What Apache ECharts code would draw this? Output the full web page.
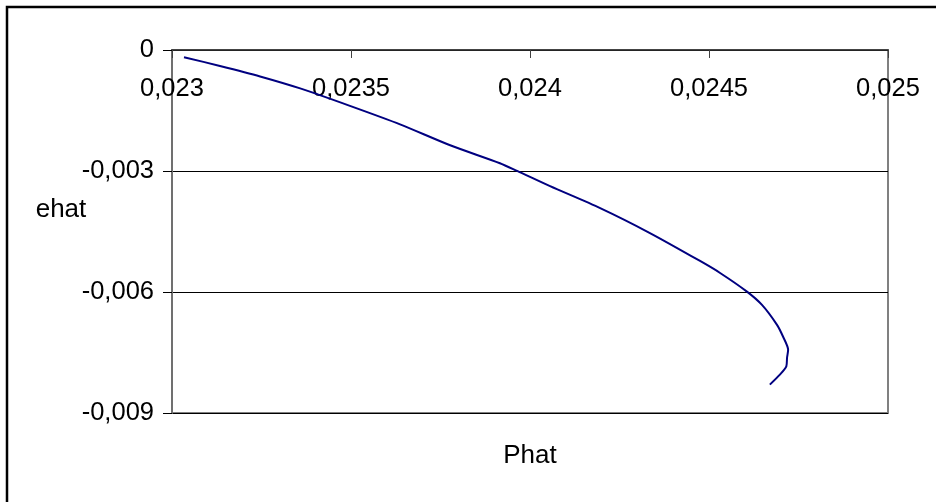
<!DOCTYPE html>
<html>
<head>
<meta charset="utf-8">
<script src="https://cdn.jsdelivr.net/npm/echarts@6/dist/echarts.min.js"></script>
<style>
  html, body { margin: 0; padding: 0; background: #fff; }
  #chart { width: 936px; height: 502px; }
</style>
</head>
<body>
<div id="chart"></div>
<script>
// Estimated price (Phat) against estimated error (ehat)
var phat = [0.0230335, 0.023134, 0.023246, 0.023358, 0.023497, 0.023637, 0.023777, 0.023916,
            0.023964, 0.024056, 0.024196, 0.024335, 0.024475, 0.024531, 0.024606, 0.024648,
            0.024690, 0.024707, 0.024721, 0.024718, 0.024716, 0.024698, 0.024670];
var ehat = [-0.000178, -0.000396, -0.000655, -0.000952, -0.001385, -0.001843, -0.002362, -0.002807,
            -0.002998, -0.003376, -0.003920, -0.004538, -0.005231, -0.005528, -0.005990, -0.006319,
            -0.006814, -0.007110, -0.007432, -0.007630, -0.007845, -0.008050, -0.008297];

var xTicks = { min: 0.023, max: 0.025, step: 0.0005 };
var yTicks = { min: -0.009, max: 0, step: 0.003 };
var xTitle = 'Phat';
var yTitle = 'ehat';

var FONT = '"Liberation Sans", Arial, sans-serif';

function commaNum(v) {
  if (Math.abs(v) < 1e-12) return '0';
  return String(+v.toFixed(5)).replace('.', ',');
}

var points = phat.map(function (p, i) { return [p, ehat[i]]; });

var chart = echarts.init(document.getElementById('chart'), null, { renderer: 'canvas' });
chart.setOption({
  animation: false,
  backgroundColor: '#ffffff',
  grid: {
    left: 172, top: 50, width: 716, height: 363,
    show: true, borderColor: '#808080', borderWidth: 2, backgroundColor: 'transparent'
  },
  xAxis: {
    type: 'value',
    position: 'top',
    min: xTicks.min, max: xTicks.max, interval: xTicks.step,
    axisLine: { show: true, onZero: false, lineStyle: { color: '#303030', width: 1.5 } },
    axisTick: { show: true, inside: true, length: 8, lineStyle: { color: '#404040', width: 1 } },
    axisLabel: {
      inside: true, margin: 26, color: '#000', fontSize: 25.5, fontFamily: FONT,
      formatter: commaNum, showMinLabel: true, showMaxLabel: true
    },
    splitLine: { show: false }
  },
  yAxis: {
    type: 'value',
    min: yTicks.min, max: yTicks.max, interval: yTicks.step,
    axisLine: { show: true, onZero: false, lineStyle: { color: '#707070', width: 2 } },
    axisTick: { show: true, inside: false, length: 9, lineStyle: { color: '#000', width: 1 } },
    axisLabel: { margin: 18, color: '#000', fontSize: 25.5, fontFamily: FONT, formatter: commaNum },
    splitLine: { show: true, lineStyle: { color: '#000', width: 1 } }
  },
  series: [{
    type: 'line',
    data: points,
    showSymbol: false,
    symbol: 'none',
    smooth: 0.25,
    lineStyle: { color: '#000080', width: 2 },
    z: 5
  }],
  graphic: [
    {
      type: 'rect', silent: true, z: 100,
      shape: { x: 7, y: 7, width: 1200, height: 1200 },
      style: { fill: 'none', stroke: '#000', lineWidth: 2.5 }
    },
    {
      type: 'text', z: 100, x: 61, y: 210,
      style: { text: yTitle, font: '26px ' + FONT, fill: '#000', align: 'center', verticalAlign: 'middle' }
    },
    {
      type: 'text', z: 100, x: 530, y: 456,
      style: { text: xTitle, font: '26px ' + FONT, fill: '#000', align: 'center', verticalAlign: 'middle' }
    }
  ]
});
</script>
</body>
</html>
